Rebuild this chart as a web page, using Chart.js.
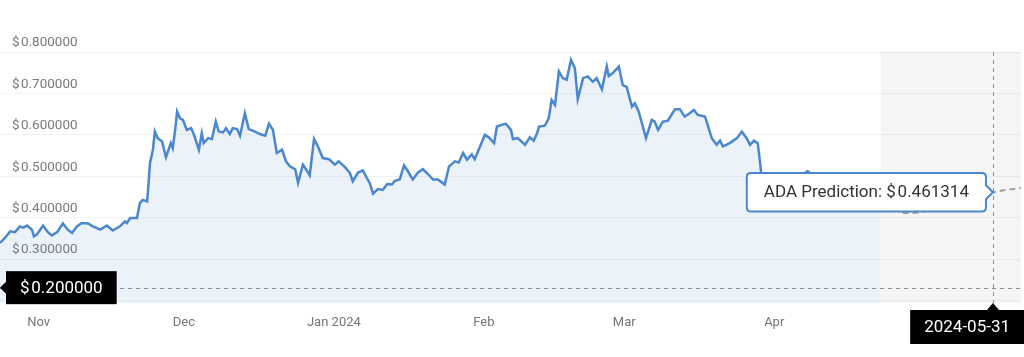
<!DOCTYPE html>
<html>
<head>
<meta charset="utf-8">
<script src="https://cdn.jsdelivr.net/npm/chart.js@4.4.1/dist/chart.umd.min.js"></script>
<style>
  html, body { margin: 0; padding: 0; background: #ffffff; }
  #wrap { width: 1024px; height: 357px; position: relative; }
</style>
</head>
<body>
<div id="wrap"><canvas id="c" width="1024" height="357"></canvas></div>
<script>
// ---- data (days counted from 2023-10-24) ----
const histDays = [0.0,1.0,2.1,3.1,4.1,4.8,5.6,6.6,7.0,7.6,8.3,8.9,9.9,10.7,11.8,13.0,14.0,14.9,15.9,16.9,18.2,19.2,20.7,22.1,23.3,24.8,25.8,26.2,26.9,28.3,28.9,29.5,30.4,30.6,31.0,31.6,32.0,32.6,33.5,34.3,34.7,35.3,35.7,36.2,36.6,37.2,37.8,38.6,39.5,40.1,41.1,41.7,42.1,43.0,43.8,44.6,45.2,46.1,46.7,47.5,48.1,49.0,49.6,50.6,51.4,52.7,53.7,54.8,55.6,56.4,57.2,58.3,59.1,59.9,61.0,61.6,62.6,63.4,64.0,64.9,65.7,66.7,68.0,69.2,70.0,71.3,72.3,72.9,74.0,75.0,75.8,76.4,77.1,78.1,79.1,80.0,81.0,81.6,82.6,83.5,84.3,85.3,86.4,87.4,88.4,89.5,90.5,91.9,92.8,94.0,94.8,95.7,96.5,97.5,98.1,99.2,100.2,101.0,102.1,102.7,103.7,104.5,105.6,106.0,107.0,108.5,109.5,110.3,111.0,111.4,112.6,113.4,114.0,114.7,115.5,116.3,117.1,118.0,118.8,119.4,120.5,121.5,122.5,123.3,124.4,125.4,125.8,126.7,127.9,128.7,129.5,130.6,131.2,132.0,133.5,134.7,135.3,136.0,137.0,138.0,139.5,140.5,141.5,142.4,143.4,144.2,145.7,147.1,148.1,148.8,149.4,150.8,152.3,153.3,154.3,155.0,155.8,156.6,157.4,158.1,159.5,161.2,162.8,164.3,165.3,166.3,166.9,167.8,169.4,171.5,173.6,175.6,177.7,179.8,182.0];
const histPrices = [0.339,0.351,0.367,0.365,0.379,0.376,0.381,0.371,0.355,0.359,0.371,0.381,0.365,0.357,0.365,0.386,0.371,0.363,0.379,0.387,0.386,0.379,0.371,0.381,0.369,0.379,0.391,0.387,0.399,0.399,0.435,0.443,0.439,0.467,0.532,0.564,0.608,0.592,0.584,0.546,0.560,0.580,0.568,0.612,0.656,0.640,0.636,0.612,0.616,0.600,0.564,0.604,0.580,0.592,0.590,0.632,0.608,0.606,0.616,0.602,0.616,0.614,0.598,0.652,0.614,0.608,0.602,0.598,0.627,0.612,0.556,0.564,0.536,0.524,0.517,0.484,0.528,0.514,0.502,0.590,0.572,0.544,0.541,0.528,0.536,0.522,0.508,0.488,0.509,0.514,0.496,0.484,0.458,0.469,0.467,0.481,0.480,0.489,0.492,0.526,0.512,0.492,0.509,0.517,0.506,0.492,0.492,0.480,0.524,0.536,0.533,0.556,0.540,0.553,0.541,0.572,0.600,0.594,0.580,0.620,0.624,0.627,0.612,0.590,0.592,0.576,0.594,0.586,0.604,0.620,0.622,0.640,0.684,0.672,0.753,0.737,0.733,0.781,0.761,0.686,0.737,0.741,0.728,0.737,0.710,0.765,0.742,0.750,0.765,0.720,0.716,0.668,0.676,0.656,0.592,0.636,0.632,0.612,0.632,0.634,0.662,0.662,0.644,0.651,0.660,0.648,0.644,0.592,0.576,0.586,0.572,0.580,0.592,0.608,0.592,0.576,0.586,0.580,0.500,0.465,0.472,0.468,0.485,0.492,0.498,0.508,0.512,0.505,0.488,0.475,0.482,0.470,0.462,0.468,0.460];
const predDays = [182.0, 187.2, 205.2, 211.0];
const predPrices = [0.460, 0.411, 0.461314, 0.472];
const monthTickDays = [8, 38, 69, 100, 129, 160];
const monthTickLabels = ['Nov', 'Dec', 'Jan 2024', 'Feb', 'Mar', 'Apr'];
const forecastStartDay = 182.0;
const cursorDay = 205.2;
const cursorPrice = 0.231;
const cursorDateLabel = '2024-05-31';
const cursorPriceLabel = '$\u200A0.200000';
const seriesName = 'ADA Prediction';

const FONT = 'Roboto, "Liberation Sans", Arial, sans-serif';
const money = v => '$\u200A' + v.toFixed(6);

const histData = histDays.map((d, i) => ({ x: d, y: histPrices[i] }));
const predData = predDays.map((d, i) => ({ x: d, y: predPrices[i] }));

function zeroPad(s) {
  s.paddingLeft = 0; s.paddingRight = 0; s.paddingTop = 0; s.paddingBottom = 0;
}

const shadePlugin = {
  id: 'shade',
  beforeDraw(chart) {
    const { ctx, chartArea, scales } = chart;
    const x0 = scales.x.getPixelForValue(forecastStartDay);
    ctx.save();
    ctx.fillStyle = '#f5f5f5';
    ctx.fillRect(x0, chartArea.top, chartArea.right - x0, chartArea.bottom - chartArea.top);
    ctx.restore();
  }
};

const crossPlugin = {
  id: 'cross',
  afterDatasetsDraw(chart) {
    const { ctx, chartArea, scales } = chart;
    const cx = scales.x.getPixelForValue(cursorDay);
    const cy = scales.y.getPixelForValue(cursorPrice);
    ctx.save();
    ctx.strokeStyle = '#8f8f8f';
    ctx.lineWidth = 1;
    ctx.setLineDash([4, 4]);
    ctx.beginPath();
    ctx.moveTo(Math.round(cx) + 0.5, chartArea.top);
    ctx.lineTo(Math.round(cx) + 0.5, chartArea.bottom);
    ctx.stroke();
    ctx.beginPath();
    ctx.moveTo(chartArea.left, Math.round(cy) + 0.5);
    ctx.lineTo(chartArea.right, Math.round(cy) + 0.5);
    ctx.stroke();
    ctx.restore();
  },
  afterDraw(chart) {
    const { ctx, chartArea, scales, width } = chart;
    const cx = scales.x.getPixelForValue(cursorDay);
    const cy = scales.y.getPixelForValue(cursorPrice);
    ctx.save();
    // price label on left
    ctx.font = '17px ' + FONT;
    const pw = ctx.measureText(cursorPriceLabel).width + 28;
    const ph = 33;
    const px = 6;
    ctx.fillStyle = '#000';
    ctx.fillRect(px, cy - ph / 2, pw, ph);
    ctx.beginPath();
    ctx.moveTo(0, cy);
    ctx.lineTo(px, cy - 6);
    ctx.lineTo(px, cy + 6);
    ctx.closePath();
    ctx.fill();
    ctx.fillStyle = '#fff';
    ctx.textAlign = 'center';
    ctx.textBaseline = 'middle';
    ctx.fillText(cursorPriceLabel, px + pw / 2, cy + 1);
    // date label at bottom
    const dw = ctx.measureText(cursorDateLabel).width + 28;
    const dh = 34;
    const dx = Math.min(cx - dw / 2, width - dw);
    const dy = chartArea.bottom + 7;
    ctx.fillStyle = '#000';
    ctx.fillRect(dx, dy, dw, dh);
    ctx.beginPath();
    ctx.moveTo(cx, dy - 7);
    ctx.lineTo(cx - 6, dy);
    ctx.lineTo(cx + 6, dy);
    ctx.closePath();
    ctx.fill();
    ctx.fillStyle = '#fff';
    ctx.fillText(cursorDateLabel, dx + dw / 2, dy + dh / 2 + 1);
    ctx.restore();
  }
};

const chart = new Chart(document.getElementById('c'), {
  type: 'line',
  data: {
    datasets: [
      {
        label: 'ADA',
        data: histData,
        borderColor: 'rgb(74,135,207)',
        backgroundColor: 'rgba(74,135,207,0.11)',
        borderWidth: 2.5,
        fill: 'start',
        pointRadius: 0,
        tension: 0
      },
      {
        label: seriesName,
        data: predData,
        borderColor: '#a0a0a0',
        borderWidth: 2,
        borderDash: [6, 4],
        fill: false,
        pointRadius: 0,
        tension: 0.4
      }
    ]
  },
  options: {
    responsive: false,
    animation: false,
    events: [],
    layout: { autoPadding: false, padding: { top: 52, bottom: 26, left: 0, right: 3 } },
    scales: {
      x: {
        type: 'linear',
        min: 0,
        max: 211,
        grid: { display: false, drawTicks: false },
        border: { display: false },
        afterBuildTicks(scale) {
          scale.ticks = monthTickDays.map(v => ({ value: v }));
        },
        afterFit(scale) {
          scale.height = 28;
          zeroPad(scale);
        },
        ticks: {
          autoSkip: false,
          maxRotation: 0,
          padding: 12,
          color: '#757575',
          font: { family: FONT, size: 13 },
          callback(value) {
            const i = monthTickDays.indexOf(value);
            return i >= 0 ? monthTickLabels[i] : '';
          }
        }
      },
      y: {
        min: 0.194,
        max: 0.8,
        grid: { color: 'rgba(0,0,0,0.05)', drawTicks: false },
        border: { display: false },
        afterFit(scale) {
          scale.width = 0;
          zeroPad(scale);
        },
        ticks: {
          stepSize: 0.1,
          includeBounds: false,
          mirror: true,
          padding: 12,
          labelOffset: -9,
          color: '#7a7a7a',
          font: { family: FONT, size: 13.5 },
          callback: v => money(v)
        }
      }
    },
    plugins: {
      legend: { display: false },
      title: { display: false },
      tooltip: {
        enabled: true,
        xAlign: 'right',
        yAlign: 'center',
        backgroundColor: '#ffffff',
        bodyColor: '#333333',
        borderColor: 'rgb(74,135,207)',
        borderWidth: 2,
        cornerRadius: 4,
        caretSize: 7,
        caretPadding: 0,
        displayColors: false,
        padding: { left: 17, right: 17, top: 9, bottom: 9 },
        bodyFont: { family: FONT, size: 17 },
        callbacks: {
          title: () => '',
          label: ctx => ctx.dataset.label + ': ' + money(ctx.parsed.y)
        }
      }
    }
  },
  plugins: [shadePlugin, crossPlugin]
});

chart.tooltip.setActiveElements([{ datasetIndex: 1, index: 2 }], { x: 0, y: 0 });
chart.update('none');
</script>
</body>
</html>
